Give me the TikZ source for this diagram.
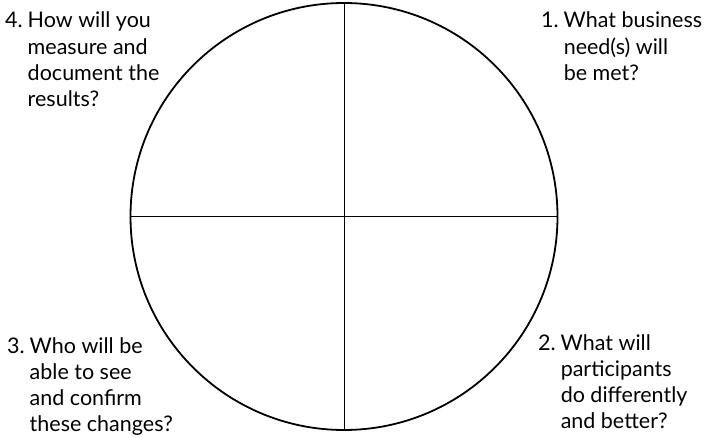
\documentclass[tikz,border=0pt]{standalone}
\usepackage{fontspec}
\setmainfont{Lato}
\begin{document}
\begin{tikzpicture}[x=1pt,y=-1pt,
  lbl/.style={anchor=base west,inner sep=0pt,font=\fontsize{21.5}{26.3}\selectfont},
  ring/.style={draw=black,line width=1.8pt},
  divider/.style={draw=black,line width=1pt}]
\useasboundingbox (0,0) rectangle (706,438);
\node[ring,circle,minimum size=427pt,inner sep=0pt] (c) at (344,216.5) {};
\draw[divider] (c.north) -- (c.south);
\draw[divider] (c.west) -- (c.east);
\node[lbl] (q4) at (5,28) {\begin{tabular}[t]{@{}l@{\hspace{5pt}}l@{}}4. & How will you\\ & measure and\\ & document the\\ & results?\end{tabular}};
\node[lbl] (q1) at (541,28) {\begin{tabular}[t]{@{}l@{\hspace{5pt}}l@{}}1. & What business\\ & need(s) will\\ & be met?\end{tabular}};
\node[lbl] (q3) at (7,353) {\begin{tabular}[t]{@{}l@{\hspace{5pt}}l@{}}3. & Who will be\\ & able to see\\ & and confirm\\ & these changes?\end{tabular}};
\node[lbl] (q2) at (538,350) {\begin{tabular}[t]{@{}l@{\hspace{5pt}}l@{}}2. & What will\\ & participants\\ & do differently\\ & and better?\end{tabular}};
\end{tikzpicture}
\end{document}
